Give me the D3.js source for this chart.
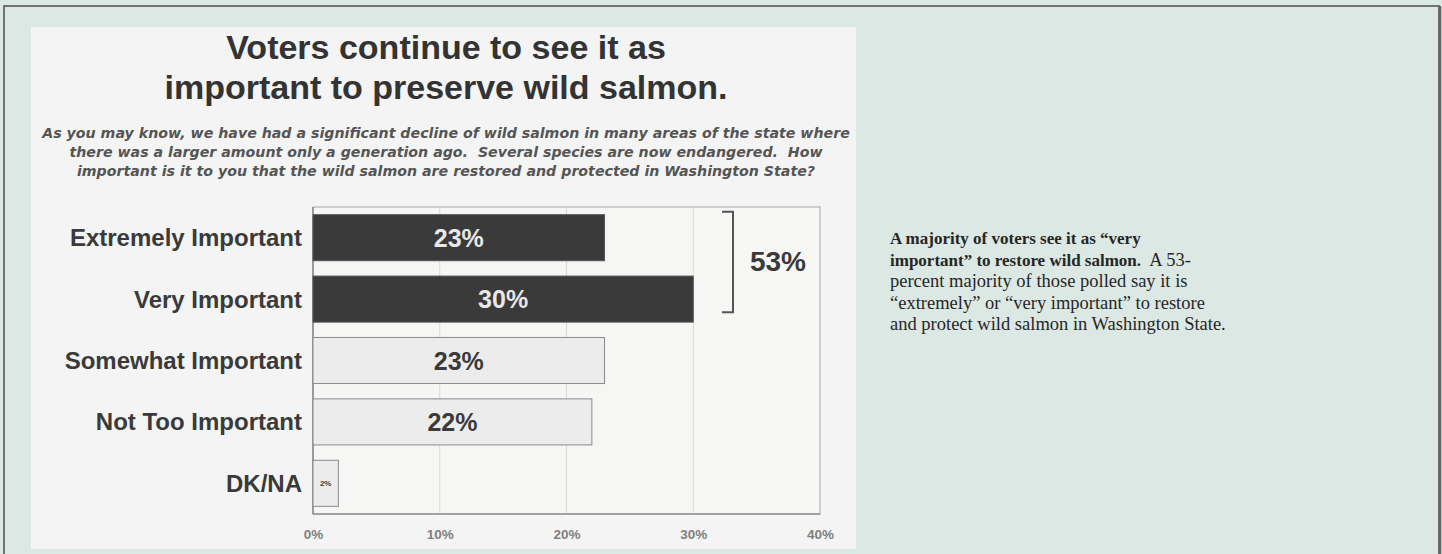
<!DOCTYPE html>
<html>
<head>
<meta charset="utf-8">
<script src="https://cdn.jsdelivr.net/npm/d3@7"></script>
<style>
  body { margin: 0; background: #dce8e3; }
  svg { display: block; }
  .cat { font-family: "Liberation Sans", Arial, sans-serif; font-weight: bold; fill: #3a3a3a; }
  .tick text { font-family: "Liberation Sans", Arial, sans-serif; font-weight: bold; fill: #808080; }
  .note { font-family: "Palatino Linotype", "Book Antiqua", Palatino, "Liberation Serif", serif; fill: #262626; }
</style>
</head>
<body>
<div id="chart"></div>
<script>
// survey answers, percent of voters
var categories = ["Extremely Important", "Very Important", "Somewhat Important", "Not Too Important", "DK/NA"];
var values = [23, 30, 23, 22, 2];
var combined = ["Extremely Important", "Very Important"];
var combinedLabel = "53%";
var ticks = [0, 10, 20, 30, 40];

var titleLines = ["Voters continue to see it as", "important to preserve wild salmon."];
var questionLines = [
  "As you may know, we have had a significant decline of wild salmon in many areas of the state where",
  "there was a larger amount only a generation ago.  Several species are now endangered.  How",
  "important is it to you that the wild salmon are restored and protected in Washington State?"
];

var width = 1442, height = 554;

var svg = d3.select("#chart").append("svg")
  .attr("width", width)
  .attr("height", height);

// outer frame
svg.append("rect")
  .attr("x", 4).attr("y", 6)
  .attr("width", 1435).attr("height", 570)
  .attr("fill", "#dce8e3")
  .attr("stroke", "#555").attr("stroke-width", 1.6);
svg.append("line")
  .attr("x1", 1440).attr("x2", 1440).attr("y1", 6).attr("y2", 554)
  .attr("stroke", "#666").attr("stroke-width", 2.5);

// slide panel
svg.append("rect")
  .attr("x", 31).attr("y", 27)
  .attr("width", 825).attr("height", 522)
  .attr("fill", "#f3f4f3");

var x = d3.scaleLinear()
  .domain([0, 40])
  .range([313, 820]);

var y = d3.scaleBand()
  .domain(categories)
  .range([207, 514])
  .paddingInner(0.25)
  .paddingOuter(0.125);

// title
svg.append("g").selectAll("text")
  .data(titleLines)
  .enter().append("text")
    .attr("x", 446)
    .attr("y", function(d, i) { return 59 + i * 40; })
    .attr("text-anchor", "middle")
    .style("font-family", "'Liberation Sans', Arial, sans-serif")
    .style("font-weight", "bold")
    .style("font-size", "34px")
    .style("fill", "#333")
    .text(function(d) { return d; });

svg.append("g").selectAll("text")
  .data(questionLines)
  .enter().append("text")
    .attr("x", 446)
    .attr("y", function(d, i) { return 138 + i * 19; })
    .attr("text-anchor", "middle")
    .attr("xml:space", "preserve")
    .style("font-family", "'DejaVu Sans', Verdana, sans-serif")
    .style("font-weight", "bold")
    .style("font-style", "italic")
    .style("font-size", "14.2px")
    .style("fill", "#555")
    .text(function(d) { return d; });

// plot frame + grid
svg.append("rect")
  .attr("x", x(0)).attr("y", 207)
  .attr("width", x(40) - x(0)).attr("height", 307)
  .attr("fill", "#f6f6f5")
  .attr("stroke", "#a8a8a8").attr("stroke-width", 1);

svg.append("g").selectAll("line")
  .data(ticks.slice(1, -1))
  .enter().append("line")
    .attr("x1", function(d) { return x(d); })
    .attr("x2", function(d) { return x(d); })
    .attr("y1", 207).attr("y2", 514)
    .attr("stroke", "#d8d8d8");

svg.append("line")
  .attr("x1", x(0)).attr("x2", x(0)).attr("y1", 207).attr("y2", 514)
  .attr("stroke", "#777").attr("stroke-width", 1.2);
svg.append("line")
  .attr("x1", x(0)).attr("x2", x(40)).attr("y1", 514).attr("y2", 514)
  .attr("stroke", "#777").attr("stroke-width", 1.2);

var axis = svg.append("g")
  .attr("transform", "translate(0,526)")
  .call(d3.axisBottom(x).tickValues(ticks).tickSize(0)
    .tickFormat(function(d) { return d + "%"; }));
axis.select(".domain").remove();
axis.selectAll("text").style("font-size", "13.5px");

// bars
var rows = categories.map(function(c, i) {
  return { name: c, value: values[i], dark: combined.indexOf(c) >= 0 };
});

svg.append("g").selectAll("rect")
  .data(rows)
  .enter().append("rect")
    .attr("x", x(0))
    .attr("y", function(d) { return y(d.name); })
    .attr("width", function(d) { return x(d.value) - x(0); })
    .attr("height", y.bandwidth())
    .attr("fill", function(d) { return d.dark ? "#3a3a3a" : "#ececec"; })
    .attr("stroke", function(d) { return d.dark ? "#555" : "#8a8a8a"; })
    .attr("stroke-width", 1);

svg.append("g").selectAll("text")
  .data(rows)
  .enter().append("text")
    .attr("class", "cat")
    .attr("x", 302)
    .attr("y", function(d) { return y(d.name) + y.bandwidth() / 2; })
    .attr("dy", "0.35em")
    .attr("text-anchor", "end")
    .style("font-size", "24px")
    .text(function(d) { return d.name; });

svg.append("g").selectAll("text")
  .data(rows)
  .enter().append("text")
    .attr("x", function(d) { return (x(0) + x(d.value)) / 2; })
    .attr("y", function(d) { return y(d.name) + y.bandwidth() / 2; })
    .attr("dy", "0.36em")
    .attr("text-anchor", "middle")
    .style("font-family", "'Liberation Sans', Arial, sans-serif")
    .style("font-weight", "bold")
    .style("font-size", function(d) { return d.value < 5 ? "8px" : "25px"; })
    .style("fill", function(d) { return d.dark ? "#e8e8e8" : "#3a3a3a"; })
    .text(function(d) { return d.value + "%"; });

// bracket for the combined share
var bTop = y(combined[0]) - 3;
var bBot = y(combined[1]) + y.bandwidth() - 10;
svg.append("path")
  .attr("d", "M722," + bTop + "H733V" + bBot + "H722")
  .attr("fill", "none")
  .attr("stroke", "#555")
  .attr("stroke-width", 2);

svg.append("text")
  .attr("x", 778)
  .attr("y", (bTop + bBot) / 2)
  .attr("dy", "0.32em")
  .attr("text-anchor", "middle")
  .style("font-family", "'Liberation Sans', Arial, sans-serif")
  .style("font-weight", "bold")
  .style("font-size", "28px")
  .style("fill", "#3a3a3a")
  .text(combinedLabel);

// side note
var note = svg.append("text")
  .attr("class", "note")
  .attr("xml:space", "preserve");

var noteLines = [
  [["A majority of voters see it as \u201cvery", true]],
  [["important\u201d to restore wild salmon.", true], ["  A 53-", false]],
  [["percent majority of those polled say it is", false]],
  [["\u201cextremely\u201d or \u201cvery important\u201d to restore", false]],
  [["and protect wild salmon in Washington State.", false]]
];

noteLines.forEach(function(line, i) {
  line.forEach(function(part, j) {
    var t = note.append("tspan")
      .style("font-weight", part[1] ? "bold" : "normal")
      .style("font-size", part[1] ? "17px" : "18.5px")
      .text(part[0]);
    if (j === 0) t.attr("x", 890).attr("y", 244 + i * 21.6);
  });
});
</script>
</body>
</html>
